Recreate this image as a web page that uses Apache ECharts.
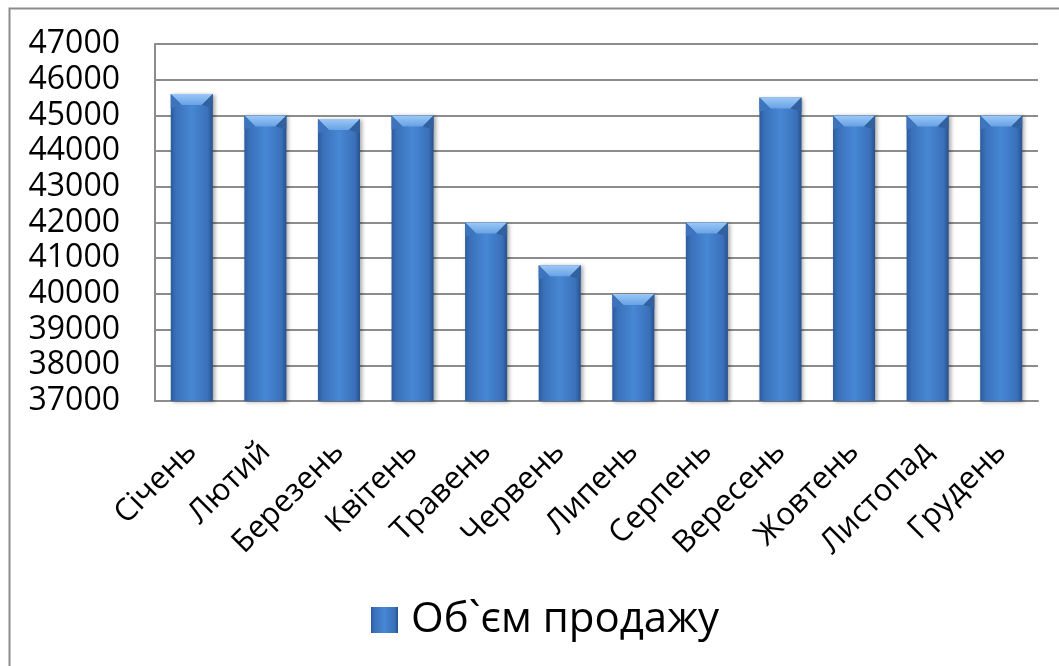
<!DOCTYPE html>
<html>
<head>
<meta charset="utf-8">
<script src="https://cdn.jsdelivr.net/npm/echarts@6/dist/echarts.min.js"></script>
<style>
  html, body { margin: 0; padding: 0; background: #fff; }
  #chart { width: 1059px; height: 666px; }
</style>
</head>
<body>
<div id="chart"></div>
<script>
// Monthly sales volume
const categories = ['Січень', 'Лютий', 'Березень', 'Квітень', 'Травень', 'Червень',
                    'Липень', 'Серпень', 'Вересень', 'Жовтень', 'Листопад', 'Грудень'];
const salesVolume = [45600, 45000, 44900, 45000, 42000, 40800, 40000, 42000, 45500, 45000, 45000, 45000];
const seriesName = 'Об`єм продажу';
const yMin = 37000;
const yMax = 47000;
const yStep = 1000;

const FONT = 'Open Sans';
const BAR_RATIO = 0.5714;

const chart = echarts.init(document.getElementById('chart'), null, { renderer: 'canvas' });

// Horizontal shading: darker edges, lighter middle
const bodyFill = new echarts.graphic.LinearGradient(0, 0, 1, 0, [
  { offset: 0, color: '#2c5b9c' },
  { offset: 0.12, color: '#3a70ba' },
  { offset: 0.5, color: '#4787d4' },
  { offset: 0.88, color: '#3a70ba' },
  { offset: 1, color: '#27508c' }
]);

chart.setOption({
  animation: false,
  backgroundColor: '#ffffff',
  graphic: [{
    type: 'rect',
    shape: { x: 9.5, y: 8.5, width: 1100, height: 700 },
    style: { fill: 'none', stroke: '#8c8c8c', lineWidth: 2 },
    silent: true
  }],
  grid: { left: 155, right: 21, top: 44, bottom: 265 },
  legend: {
    show: true,
    bottom: 20,
    left: 366,
    itemWidth: 27,
    itemHeight: 26,
    itemGap: 12,
    icon: 'rect',
    data: [seriesName],
    textStyle: { fontFamily: FONT, fontSize: 42, color: '#000', padding: [0, 0, 0, 8] }
  },
  xAxis: {
    type: 'category',
    data: categories,
    axisTick: { show: false },
    axisLine: { lineStyle: { color: '#8c8c8c', width: 2 } },
    axisLabel: {
      interval: 0,
      rotate: 45,
      margin: 46,
      fontFamily: FONT,
      fontSize: 31,
      color: '#000'
    }
  },
  yAxis: {
    type: 'value',
    min: yMin,
    max: yMax,
    interval: yStep,
    axisLine: { show: true, lineStyle: { color: '#8c8c8c', width: 2 } },
    axisTick: { show: false },
    splitLine: { lineStyle: { color: '#8c8c8c', width: 2 } },
    axisLabel: {
      margin: 35,
      fontFamily: FONT,
      fontSize: 32,
      color: '#000',
      formatter: v => String(v)
    }
  },
  series: [
    {
      name: seriesName,
      type: 'bar',
      data: salesVolume,
      barWidth: (BAR_RATIO * 100) + '%',
      itemStyle: {
        color: bodyFill,
        shadowColor: 'rgba(0,0,0,0.35)',
        shadowBlur: 4,
        shadowOffsetX: 2,
        shadowOffsetY: 1
      },
      z: 2
    },
    {
      // bevelled top cap on each bar
      type: 'custom',
      name: 'bevel',
      data: salesVolume.map((v, i) => [i, v]),
      z: 3,
      silent: true,
      renderItem: function (params, api) {
        const top = api.coord([api.value(0), api.value(1)]);
        const w = api.size([1, 0])[0] * BAR_RATIO;
        const xl = top[0] - w / 2;
        const xr = top[0] + w / 2;
        const yt = top[1];
        const b = 11;
        return {
          type: 'group',
          children: [
            {
              type: 'polygon',
              shape: { points: [[xl, yt], [xr, yt], [xr - b, yt + b], [xl + b, yt + b]] },
              style: {
                fill: new echarts.graphic.LinearGradient(0, 0, 0, 1, [
                  { offset: 0, color: '#9cc8f6' },
                  { offset: 1, color: '#67a2e4' }
                ])
              }
            },
            {
              type: 'polygon',
              shape: { points: [[xl, yt], [xl + b, yt + b], [xl, yt + b + 3]] },
              style: { fill: '#3e74bd' }
            },
            {
              type: 'polygon',
              shape: { points: [[xr, yt], [xr - b, yt + b], [xr, yt + b + 3]] },
              style: { fill: '#32619f' }
            }
          ]
        };
      }
    }
  ]
});
</script>
</body>
</html>
